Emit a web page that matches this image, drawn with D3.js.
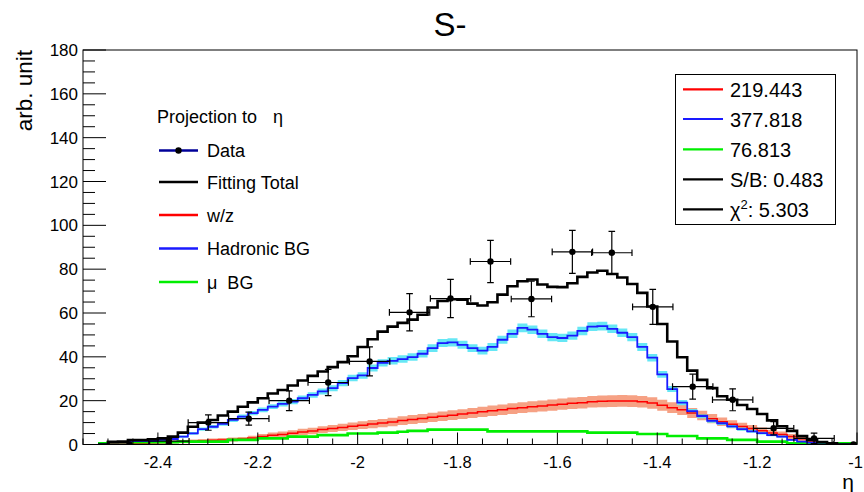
<!DOCTYPE html>
<html><head><meta charset="utf-8">
<script src="https://cdn.jsdelivr.net/npm/d3@7"></script>
<style>body{margin:0;background:#fff}svg{display:block;font-family:"Liberation Sans",Arial,Helvetica,sans-serif}</style>
</head><body><svg id="c" width="864" height="492"></svg>
<script>
// ---- data ----
const binStart = -2.52, binWidth = 0.02; // fine histogram binning (76 bins)
const fitTotal = [0,1.2,1.3,2.0,2.0,2.4,2.8,3.6,5.4,8.1,
10.0,11.2,13.2,15.0,17.2,19.2,21.1,23.3,24.9,26.9,
29.2,31.3,33.3,35.3,37.6,40.3,44.5,48.0,51.5,53.8,
55.5,57.0,59.2,62.5,65.5,66.3,66.1,64.3,63.4,64.9,
68.4,72.2,74.5,75.3,73.0,71.9,71.8,73.6,76.5,78.5,
79.3,77.8,76.2,73.2,69.2,63.0,55.0,47.0,39.8,33.7,
29.5,25.7,22.0,20.4,18.0,16.2,13.9,11.0,8.3,6.2,
3.8,2.1,1.1,0.6,0,0];
const hadronicBG = [0,1.0,1.0,1.6,1.6,1.6,2.1,2.5,3.6,5.1,
7.0,8.1,9.4,11.2,12.7,14.3,15.8,17.3,18.5,19.6,
21.1,22.6,24.2,25.7,28.0,30.3,31.5,34.9,37.2,38.2,
39.0,39.9,41.4,44.0,46.3,46.6,45.5,44.0,42.8,44.5,
47.8,50.5,53.2,52.4,50.5,49.0,48.6,49.7,51.8,53.8,
54.0,52.8,51.0,49.0,44.5,39.6,32.0,25.3,19.1,15.2,
13.0,10.8,9.7,8.3,7.0,6.0,5.2,4.3,3.6,2.1,
1.3,0.9,0,0,0,0];
const hadronicErr = [0,0.3,0.3,0.35,0.35,0.35,0.4,0.43,0.5,0.6,
0.7,0.77,0.83,0.9,0.96,1.0,1.07,1.1,1.16,1.2,
1.24,1.28,1.33,1.37,1.43,1.49,1.52,1.6,1.65,1.67,
1.69,1.7,1.74,1.79,1.84,1.84,1.82,1.79,1.77,1.8,
1.87,1.92,1.97,1.95,1.92,1.89,1.88,1.9,1.94,1.98,
1.98,1.96,1.93,1.89,1.8,1.7,1.53,1.36,1.18,1.05,
0.97,0.89,0.84,0.78,0.71,0.66,0.62,0.56,0.51,0.39,
0.31,0.26,0,0,0,0];
const wzSignal = [0.2,0.3,0.4,0.5,0.6,0.8,0.9,1.1,1.3,1.5,
1.7,1.9,2.1,2.3,2.5,3.0,3.6,4.2,4.6,5.1,
5.7,6.2,6.8,7.3,7.8,8.3,8.8,9.3,9.8,10.3,
10.9,11.4,11.9,12.4,12.9,13.4,13.9,14.4,14.9,15.4,
15.9,16.4,16.8,17.2,17.6,18.0,18.4,18.8,19.1,19.5,
19.7,19.8,19.9,19.8,19.5,18.9,17.9,16.8,15.8,14.4,
13.2,11.8,10.4,9.2,8.2,7.3,6.3,5.3,4.6,3.6,
2.6,1.6,0.6,0.3,0,0];
const wzErr = [0.27,0.33,0.38,0.42,0.46,0.54,0.57,0.63,0.68,0.73,
0.78,0.83,0.87,0.91,0.95,1.04,1.14,1.23,1.29,1.35,
1.43,1.49,1.56,1.62,1.68,1.73,1.78,1.83,1.88,1.93,
1.98,2.03,2.07,2.11,2.15,2.2,2.24,2.28,2.32,2.35,
2.39,2.43,2.46,2.49,2.52,2.55,2.57,2.6,2.62,2.65,
2.66,2.67,2.68,2.67,2.65,2.61,2.54,2.46,2.38,2.28,
2.18,2.06,1.93,1.82,1.72,1.62,1.51,1.38,1.29,1.14,
0.97,0.76,0.46,0.33,0,0];
const muBG = [0.5,1.0,1.0,1.0,1.0,1.0,1.0,1.0,1.3,1.3,
1.3,1.3,1.3,2.1,2.1,2.1,2.8,2.8,2.8,3.6,
3.6,3.6,4.3,4.3,4.3,5.0,5.0,5.0,5.4,5.4,
5.8,6.2,6.2,6.8,6.8,6.8,6.8,6.8,6.8,6.0,
6.0,6.0,6.0,6.0,6.0,6.0,6.0,6.0,6.0,5.4,
5.4,5.4,5.4,5.4,4.8,4.8,4.8,3.9,3.9,3.9,
2.8,2.8,2.8,2.1,2.1,2.1,1.3,1.3,1.3,0.5,
0.5,0.5,0.5,0.5,0.5,0.5];
const dataEta = [-2.457,-2.378,-2.299,-2.218,-2.137,-2.059,-1.976,-1.896,-1.814,-1.734,-1.652,-1.570,-1.491,-1.409,-1.329,-1.249,-1.167,-1.086,-1.007];
const dataVal = [0,1.5,10.0,11.8,20.0,28.3,37.9,60.3,66.6,83.5,66.4,87.9,87.5,62.8,26.4,20.4,7.4,2.8,0];
const dataErr = [0,1.2,3.5,3.0,4.5,6.0,6.6,8.5,8.7,9.6,8.1,9.8,9.7,8.0,5.7,5.0,3.0,2.4,0];
const dataHalfWidth = 0.0404;
const yTicks = [0,20,40,60,80,100,120,140,160,180];
const xTicks = [-2.4,-2.2,-2,-1.8,-1.6,-1.4,-1.2,-1];
const legendLeftLabels = ["Data","Fitting Total","w/z","Hadronic BG","\u03bc  BG"];
const legendRightLabels = ["219.443","377.818","76.813","S/B: 0.483","\u03c7|2|: 5.303"];
const titleText = "S-", xTitle = "\u03b7", yTitle = "arb. unit";

// ---- layout ----
const L = 83, R = 857, T = 50, B = 444.5;
const svg = d3.select("#c");
const x = d3.scaleLinear().domain([-2.55, -1]).range([L, R]);
const y = d3.scaleLinear().domain([0, 180]).range([B, T]);
const edges = d3.range(fitTotal.length + 1).map(i => binStart + binWidth * i);

svg.append("defs").append("clipPath").attr("id","clip")
  .append("rect").attr("x",L).attr("y",T).attr("width",R-L).attr("height",B-T);

function stepPts(vals){
  const pts = vals.map((v,i)=>[edges[i], v]);
  pts.push([edges[vals.length], vals[vals.length-1]]);
  return pts;
}
const lineGen = d3.line().x(d=>x(d[0])).y(d=>y(d[1])).curve(d3.curveStepAfter);
const areaGen = d3.area().x(d=>x(d[0])).y0(d=>y(Math.max(0,d[1]-d[2]))).y1(d=>y(d[1]+d[2])).curve(d3.curveStepAfter);
function bandPts(vals, errs){
  const pts = vals.map((v,i)=>[edges[i], v, errs[i]]);
  pts.push([edges[vals.length], vals[vals.length-1], errs[vals.length-1]]);
  return pts;
}
const g = svg.append("g").attr("clip-path","url(#clip)");

// bands
g.append("path").attr("d", areaGen(bandPts(wzSignal, wzErr))).attr("fill","#f4906f").attr("opacity",0.85);
g.append("path").attr("d", areaGen(bandPts(hadronicBG, hadronicErr))).attr("fill","#55e4f4").attr("opacity",0.9);
// lines
g.append("path").attr("d", lineGen(stepPts(wzSignal))).attr("fill","none").attr("stroke","#ff0000").attr("stroke-width",1.5);
g.append("path").attr("d", lineGen(stepPts(muBG))).attr("fill","none").attr("stroke","#00ee00").attr("stroke-width",2.6);
g.append("path").attr("d", lineGen(stepPts(hadronicBG))).attr("fill","none").attr("stroke","#1a1aff").attr("stroke-width",1.8);
g.append("path").attr("d", lineGen(stepPts(fitTotal))).attr("fill","none").attr("stroke","#000").attr("stroke-width",2.6);

// data points
const dg = g.append("g").attr("stroke","#000").attr("stroke-width",1.2);
const cap = 3.3;
dataEta.forEach((e,i)=>{
  const cx = x(e), cy = y(dataVal[i]);
  const xl = x(e - dataHalfWidth), xr = x(e + dataHalfWidth);
  const yt = y(dataVal[i] + dataErr[i]), yb = y(Math.max(0, dataVal[i] - dataErr[i]));
  dg.append("line").attr("x1",xl).attr("x2",xr).attr("y1",cy).attr("y2",cy);
  dg.append("line").attr("x1",xl).attr("x2",xl).attr("y1",cy-cap).attr("y2",cy+cap);
  dg.append("line").attr("x1",xr).attr("x2",xr).attr("y1",cy-cap).attr("y2",cy+cap);
  if (dataErr[i] > 0) {
    dg.append("line").attr("x1",cx).attr("x2",cx).attr("y1",yt).attr("y2",yb);
    dg.append("line").attr("x1",cx-cap).attr("x2",cx+cap).attr("y1",yt).attr("y2",yt);
    dg.append("line").attr("x1",cx-cap).attr("x2",cx+cap).attr("y1",yb).attr("y2",yb);
  }
  dg.append("circle").attr("cx",cx).attr("cy",cy).attr("r",3.2).attr("fill","#000").attr("stroke","none");
});

// frame
svg.append("rect").attr("x",L).attr("y",T).attr("width",R-L).attr("height",B-T)
  .attr("fill","none").attr("stroke","#000").attr("stroke-width",1);

// y axis ticks
const ax = svg.append("g").attr("stroke","#000").attr("stroke-width",1);
d3.range(0, 181, 5).forEach(v=>{
  const major = v % 20 === 0;
  ax.append("line").attr("x1",L).attr("x2",L + (major?23:12)).attr("y1",y(v)).attr("y2",y(v));
});
svg.append("g").selectAll("text").data(yTicks).join("text")
  .attr("x",78).attr("y",d=>y(d)+6).attr("text-anchor","end")
  .attr("font-size",17).text(d=>d);
// x axis ticks
d3.range(-2.55, -0.999, 0.05).forEach(v=>{
  const vv = Math.round(v*100)/100;
  const major = Math.abs(Math.round(vv*5) - vv*5) < 1e-6;
  ax.append("line").attr("x1",x(vv)).attr("x2",x(vv)).attr("y1",B).attr("y2",B - (major?12:6));
});
svg.append("g").selectAll("text").data(xTicks).join("text")
  .attr("x",(d,i)=> i===xTicks.length-1 ? 863 : x(d))
  .attr("y",468)
  .attr("text-anchor",(d,i)=> i===xTicks.length-1 ? "end" : "middle")
  .attr("font-size",16.5).text(d=>d3.format("")(d).replace("\u2212","-"));

// titles
svg.append("text").attr("x",450).attr("y",36).attr("text-anchor","middle").attr("font-size",33).text(titleText);
svg.append("text").attr("transform","translate(32,50) rotate(-90)").attr("text-anchor","end").attr("font-size",22.5).text(yTitle);
svg.append("text").attr("x",848).attr("y",489).attr("text-anchor","middle").attr("font-size",21).text(xTitle);

// left legend
svg.append("text").attr("x",157).attr("y",123).attr("font-size",18).text("Projection to");
svg.append("text").attr("x",273).attr("y",123).attr("font-size",18).text("\u03b7");
const leftRows = [150.5, 182, 215, 248.5, 282];
const leftColors = ["#000099","#000","#ff0000","#1a1aff","#00ee00"];
legendLeftLabels.forEach((t,i)=>{
  svg.append("line").attr("x1",159).attr("x2",198).attr("y1",leftRows[i]).attr("y2",leftRows[i])
    .attr("stroke",leftColors[i]).attr("stroke-width",2.6);
  if (i===0) svg.append("circle").attr("cx",178.5).attr("cy",leftRows[i]).attr("r",3.2).attr("fill","#000");
  svg.append("text").attr("x",207).attr("y",leftRows[i]+6.5).attr("font-size",18)
    .style("white-space","pre").attr("xml:space","preserve").text(t);
});

// right legend
svg.append("rect").attr("x",675.5).attr("y",74.5).attr("width",160).attr("height",150)
  .attr("fill","#fff").attr("stroke","#000").attr("stroke-width",1);
const rightRows = [89.3, 119, 149.3, 179.3, 209.3];
const rightColors = ["#ff0000","#1a1aff","#00ee00","#000","#000"];
legendRightLabels.forEach((t,i)=>{
  svg.append("line").attr("x1",683).attr("x2",723).attr("y1",rightRows[i]).attr("y2",rightRows[i])
    .attr("stroke",rightColors[i]).attr("stroke-width",2.2);
  const tx = svg.append("text").attr("x",730).attr("y",rightRows[i]+8).attr("font-size",20);
  const parts = t.split("|");
  if (parts.length === 3) {
    tx.append("tspan").text(parts[0]);
    tx.append("tspan").attr("dy",-8).attr("font-size",13).text(parts[1]);
    tx.append("tspan").attr("dy",8).text(parts[2]);
  } else tx.text(t);
});
</script></body></html>
